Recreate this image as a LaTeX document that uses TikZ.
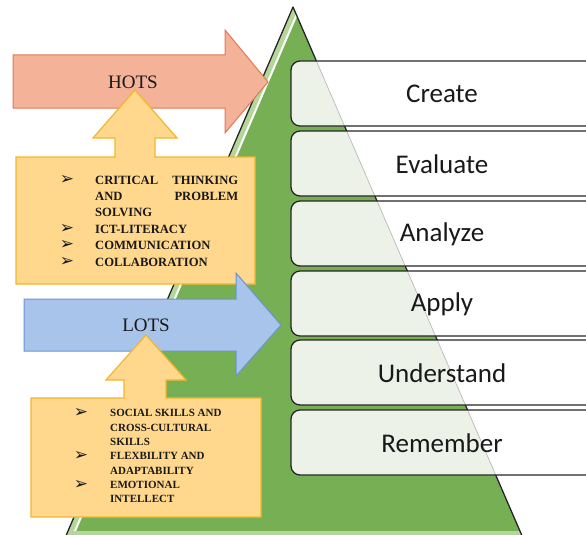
\documentclass[tikz,border=0pt]{standalone}
\usepackage{fontspec}
\setmainfont{Liberation Serif}
\newfontfamily\boxfont{Carlito}
\newfontfamily\symfont{DejaVu Sans}
\definecolor{triGreen}{RGB}{119,176,84}
\definecolor{triLight}{RGB}{178,215,152}
\definecolor{boxGreen}{RGB}{236,242,232}
\definecolor{redFill}{RGB}{244,178,152}
\definecolor{redLine}{RGB}{222,122,86}
\definecolor{blueFill}{RGB}{168,196,234}
\definecolor{blueLine}{RGB}{108,148,208}
\definecolor{yelFill}{RGB}{255,216,142}
\definecolor{yelLine}{RGB}{242,182,46}
\tikzset{
  lvl/.style={font=\boxfont\fontsize{27}{27}\selectfont, text=black!90, inner sep=0pt},
  lvlbox/.style={draw=black!85, line width=1.3pt, rounded corners=9pt},
  bigarrowlabel/.style={font=\fontsize{19}{19}\selectfont, text=black!90, inner sep=0pt},
  redarrow/.style={fill=redFill, draw=redLine, line width=1pt},
  bluearrow/.style={fill=blueFill, draw=blueLine, line width=1pt},
  callout/.style={fill=yelFill, draw=yelLine, line width=1.2pt},
  bullet/.style={font=\symfont\fontsize{17}{17}\selectfont, inner sep=0pt, text=black!90},
  listtext/.style={anchor=base west, inner sep=0pt, text=black!90},
}
\begin{document}
\begin{tikzpicture}[x=1pt,y=-1pt]
\clip (0,0) rectangle (586,535);
\fill[white] (0,0) rectangle (586,535);
% pyramid
\coordinate (apex) at (293,7);
\coordinate (bl) at (62,545);
\coordinate (br) at (526,545);
\fill[triGreen] (apex) -- (bl) -- (br) -- cycle;
\begin{scope}
  \clip (apex) -- (bl) -- (br) -- cycle;
  \draw[triLight, line width=14pt] (apex) -- (bl);
  \draw[white, line width=2pt] (300,7) -- (69,545);
  \fill[triLight] (0,531) rectangle (586,545);
\end{scope}
\draw[black!85, line width=1.3pt, line join=round] (bl) -- (apex) -- (br);
% level boxes
\foreach \y/\t/\n in {61/Create/create, 131/Evaluate/evaluate, 201/Analyze/analyze, 271/Apply/apply, 340/Understand/understand, 410/Remember/remember}{
  \begin{scope}
    \clip[rounded corners=9pt] (291,\y) rectangle (620,\y+65);
    \fill[white] (291,\y) rectangle (620,\y+65);
    \fill[boxGreen] (apex) -- (bl) -- (br) -- cycle;
    \draw[black!30, line width=0.6pt] (apex) -- (br);
  \end{scope}
  \draw[lvlbox] (291,\y) rectangle (620,\y+65);
  \node[lvl] (\n) at (442,\y+33) {\t};
}
% HOTS arrow
\draw[redarrow, line join=miter] (13,55) -- (225,55) -- (225,30) -- (268,82) -- (225,133) -- (225,108) -- (13,108) -- cycle;
\node[bigarrowlabel] (hots) at (133,82) {HOTS};
% HOTS callout
\draw[callout] (16,157) -- (115,157) -- (115,138) -- (93,138) -- (135,90) -- (177,138) -- (155,138) -- (155,157) -- (255,157) -- (255,284) -- (16,284) -- cycle;
\node[listtext] (hotslist) at (95,184) {\parbox[t]{143pt}{\fontsize{12.6}{16.4}\selectfont\bfseries
  CRITICAL\hfill THINKING\\ AND\hfill PROBLEM\\ SOLVING\\ ICT-LITERACY\\ COMMUNICATION\\ COLLABORATION}};
\node[bullet] (hb1) at (67,179.5) {➢};
\node[bullet] (hb2) at (67,228.7) {➢};
\node[bullet] (hb3) at (67,245.1) {➢};
\node[bullet] (hb4) at (67,261.5) {➢};
% LOTS arrow
\draw[bluearrow, line join=miter] (24,299) -- (236,299) -- (236,273) -- (281,325) -- (236,376) -- (236,351) -- (24,351) -- cycle;
\node[bigarrowlabel] (lots) at (146,325) {LOTS};
% LOTS callout
\draw[callout] (31,398) -- (124,398) -- (124,380) -- (106,380) -- (146,335) -- (186,380) -- (166,380) -- (166,398) -- (261,398) -- (261,517) -- (31,517) -- cycle;
\node[listtext] (lotslist) at (110,416.8) {\parbox[t]{150pt}{\fontsize{11}{14.3}\selectfont\bfseries
  SOCIAL SKILLS AND\\ CROSS-CULTURAL\\ SKILLS\\ FLEXBILITY AND\\ ADAPTABILITY\\ EMOTIONAL\\ INTELLECT}};
\node[bullet] (lb1) at (81,413) {➢};
\node[bullet] (lb2) at (81,455.9) {➢};
\node[bullet] (lb3) at (81,484.5) {➢};
\end{tikzpicture}
\end{document}
